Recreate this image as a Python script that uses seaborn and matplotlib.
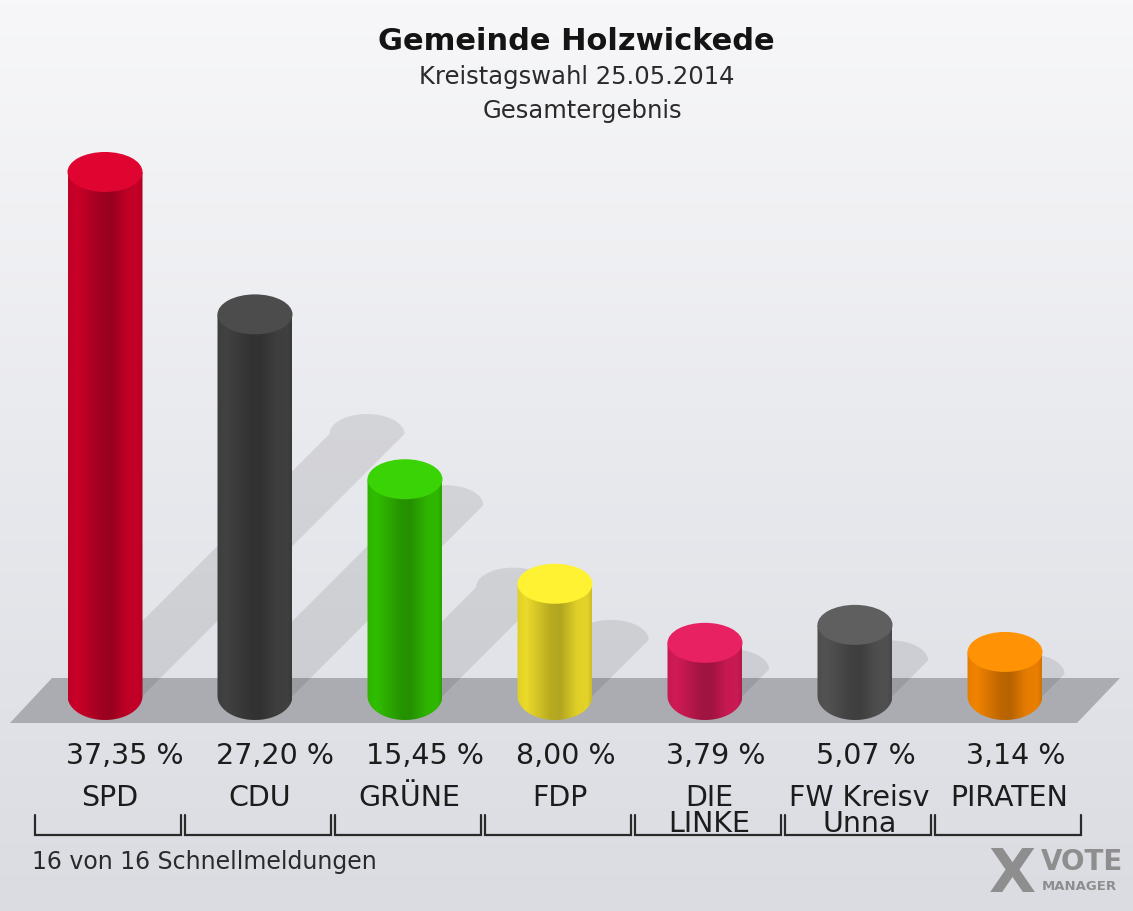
import numpy as np
import matplotlib
matplotlib.use("Agg")
import matplotlib.pyplot as plt
import seaborn as sns
from matplotlib.patches import Polygon, PathPatch, Ellipse
from matplotlib.path import Path

# data
parties = ["SPD", "CDU", "GRÜNE", "FDP", "DIE\nLINKE", "FW Kreisv\nUnna", "PIRATEN"]
values = [37.35, 27.20, 15.45, 8.00, 3.79, 5.07, 3.14]
value_labels = ["37,35 %", "27,20 %", "15,45 %", "8,00 %", "3,79 %", "5,07 %", "3,14 %"]
colors = ["#d5002b", "#454545", "#33c800", "#f8e62c", "#dc1c5a", "#575757", "#ff8a00"]

title = "Gemeinde Holzwickede"
subtitle1 = "Kreistagswahl 25.05.2014"
subtitle2 = "Gesamtergebnis"
footer = "16 von 16 Schnellmeldungen"

sns.set_theme(style="white")
plt.rcParams["font.family"] = ["DejaVu Sans"]

W, H = 1133, 911
# pixel layout of the chart
X0_PX, X_STEP = 105, 150      # first category centre, spacing
Y0_PX, Y_STEP = 696, 14.03    # zero line, pixels per percent


def to_data(px, py):
    return (px - X0_PX) / X_STEP, (Y0_PX - py) / Y_STEP


fig = plt.figure(figsize=(W / 100, H / 100), dpi=100)
ax = fig.add_axes([0, 0, 1, 1])
xlim = (to_data(0, 0)[0], to_data(W, 0)[0])
ylim = (to_data(0, H)[1], to_data(0, 0)[1])

# background gradient
bg = np.linspace(0, 1, 256)[:, None]
top_c = np.array([247, 247, 249]) / 255
bot_c = np.array([218, 220, 226]) / 255
bg_img = top_c + (bot_c - top_c) * bg
ax.imshow(bg_img[:, None, :].repeat(2, axis=1), extent=[xlim[0], xlim[1], ylim[0], ylim[1]],
          aspect="auto", zorder=0, origin="upper")

# floor
floor = [to_data(10, 723), to_data(52, 678), to_data(1120, 678), to_data(1077, 723)]
ax.add_patch(Polygon(floor, closed=True, facecolor="#aaacb1", edgecolor="none", zorder=1))

# bars
df_x = list(range(len(parties)))
sns.barplot(x=df_x, y=values, hue=df_x, palette=colors, width=0.5, legend=False,
            ax=ax, zorder=3, native_scale=True)

cap_h = 40 / Y_STEP          # height of top ellipse in percent
bot_h = 48 / Y_STEP          # height of bottom ellipse in percent
dx_per_pct = Y_STEP / X_STEP  # 45 degree shadow

t = np.linspace(0, 1, 200)
shade = np.interp(t, [0, 0.12, 0.45, 0.58, 0.8, 0.94, 1.0],
                  [0.9, 0.95, 0.74, 0.72, 0.9, 0.92, 0.82])

bars = [p for c in ax.containers for p in c]
bars = sorted(bars, key=lambda p: p.get_x())
for bar, val, col in zip(bars, values, colors):
    x = bar.get_x() + bar.get_width() / 2
    w = bar.get_width()
    h = bar.get_height()

    # diagonal shadow
    dy = 0.5 * h
    dx = dy * dx_per_pct
    ang = np.linspace(np.pi, 0, 40)
    arc = [(x + dx + w / 2 * np.cos(a), dy + cap_h / 2 * np.sin(a)) for a in ang]
    sh_pts = [(x - w / 2, 0)] + arc + [(x + w / 2, 0)]
    ax.add_patch(Polygon(sh_pts, closed=True, facecolor=(0, 0, 0, 0.09),
                         edgecolor="none", zorder=2))

    # cylinder body with rounded bottom, shaded horizontally
    ang_b = np.linspace(np.pi, 2 * np.pi, 40)
    body = [(x - w / 2, h)] + [(x + w / 2 * np.cos(a), bot_h / 2 * np.sin(a)) for a in ang_b] + [(x + w / 2, h)]
    body_path = Path(body + [body[0]], [Path.MOVETO] + [Path.LINETO] * (len(body) - 1) + [Path.CLOSEPOLY])
    clip = PathPatch(body_path, facecolor="none", edgecolor="none", zorder=3)
    ax.add_patch(clip)
    base = np.array(matplotlib.colors.to_rgb(col))
    grad = np.clip(base[None, :] * shade[:, None], 0, 1)
    im = ax.imshow(grad[None, :, :], extent=[x - w / 2, x + w / 2, -bot_h, h],
                   aspect="auto", zorder=4, origin="upper")
    im.set_clip_path(clip)
    bar.set_visible(False)

    # top cap
    cap_c = np.clip(base * 1.03 + 0.02, 0, 1)
    ax.add_patch(Ellipse((x, h), w, cap_h, facecolor=cap_c, edgecolor="none", zorder=5))

# labels under the bars
for i, (name, lab) in enumerate(zip(parties, value_labels)):
    ax.text(i - 0.26, to_data(0, 756)[1], lab, ha="left", va="center",
            fontsize=20.5, color="#1c1c1c", zorder=6)
    ax.text(i + 0.03, to_data(0, 784)[1], name, ha="center", va="top",
            fontsize=20.5, color="#1c1c1c", linespacing=0.92, zorder=6)
    # bracket
    xl, xr = i - 70 / X_STEP, i + 76 / X_STEP
    yt, yb = to_data(0, 815)[1], to_data(0, 835)[1]
    ax.plot([xl, xl, xr, xr], [yt, yb, yb, yt], color="#2a2a2a", lw=1.6,
            solid_joinstyle="miter", zorder=6)

ax.set_xlim(*xlim)
ax.set_ylim(*ylim)
ax.axis("off")

# titles
fig.text(576 / W, 1 - 41 / H, title, ha="center", va="center", fontsize=22,
         color="#141414", fontweight="bold")
fig.text(577 / W, 1 - 77 / H, subtitle1, ha="center", va="center", fontsize=17.5, color="#2a2a2a")
fig.text(582 / W, 1 - 111 / H, subtitle2, ha="center", va="center", fontsize=17.5, color="#2a2a2a")
fig.text(32 / W, 1 - 862 / H, footer, ha="left", va="center", fontsize=17, color="#2a2a2a")

# logo
fig.text(1012 / W, 1 - 875 / H, "X", ha="center", va="center", fontsize=44,
         fontweight="bold", color="#8e8e8e")
fig.text(1041 / W, 1 - 862 / H, "VOTE", ha="left", va="center", fontsize=20,
         fontweight="bold", color="#8e8e8e")
fig.text(1042 / W, 1 - 887 / H, "MANAGER", ha="left", va="center", fontsize=9.5,
         fontweight="bold", color="#8e8e8e")

fig.savefig("out.png", dpi=100)
